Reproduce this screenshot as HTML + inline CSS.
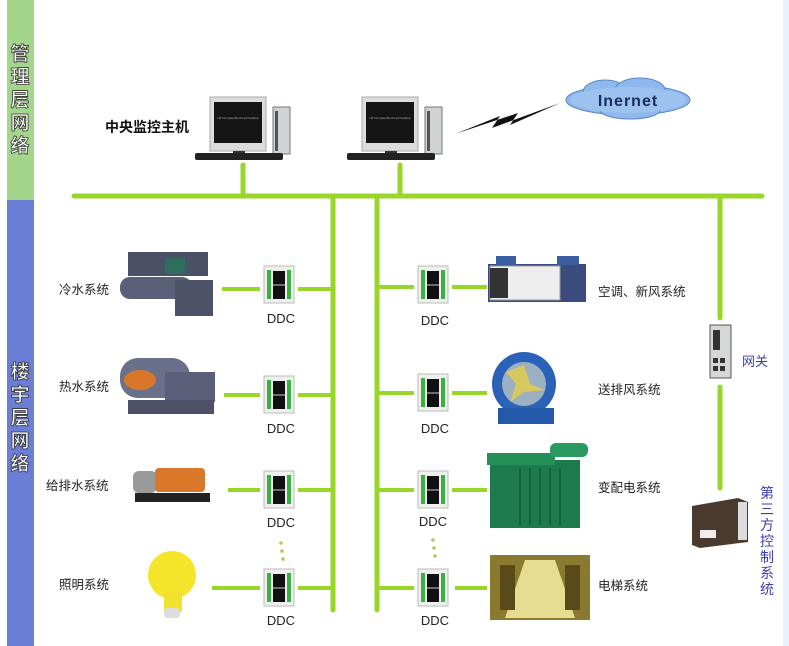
<!DOCTYPE html>
<html><head><meta charset="utf-8"><style>
html,body{margin:0;padding:0;background:#fff;}
svg{display:block;}
text{font-family:"Liberation Sans","Noto Sans CJK SC",sans-serif;}
</style></head><body>
<svg width="789" height="646" viewBox="0 0 789 646" xmlns="http://www.w3.org/2000/svg">
<defs>
<g id="ddc">
<rect x="0" y="0" width="30" height="37" fill="#eef0ee" stroke="#b8bcb8"/>
<rect x="3" y="4" width="4" height="29" fill="#3cb043"/>
<rect x="23" y="4" width="4" height="29" fill="#3cb043"/>
<rect x="9" y="5" width="12" height="28" fill="#111"/>
<line x1="9" y1="19" x2="21" y2="19" stroke="#ccc" stroke-width="1"/>
</g>
<g id="pc">
<rect x="15" y="0" width="56" height="54" fill="#dcdcdc" stroke="#aaa"/>
<rect x="19" y="5" width="48" height="41" fill="#151515"/>
<rect x="38" y="54" width="12" height="5" fill="#333"/>
<rect x="78" y="10" width="17" height="47" fill="#cfd3d6" stroke="#777"/>
<rect x="80" y="14" width="3" height="40" fill="#555"/>
<rect x="0" y="56" width="88" height="7" rx="2" fill="#222"/>
<text x="43" y="22" font-size="3" fill="#aaa" text-anchor="middle">HP Compaq Business Desktop</text>
</g>
</defs>
<!-- sidebar -->
<rect x="7" y="0" width="27" height="200" fill="#a3d68a"/>
<rect x="7" y="200" width="27" height="446" fill="#6b7ed5"/>
<g font-size="19" font-weight="bold" fill="#fff" stroke="#333" stroke-width="0.8" text-anchor="middle">
<text x="20" y="60">管</text><text x="20" y="83">理</text><text x="20" y="106">层</text><text x="20" y="129">网</text><text x="20" y="152">络</text>
<text x="20" y="378">楼</text><text x="20" y="401">宇</text><text x="20" y="424">层</text><text x="20" y="447">网</text><text x="20" y="470">络</text>
</g>
<rect x="783" y="0" width="6" height="646" fill="#e9f0f8"/>
<!-- bus lines -->
<g stroke="#98d628" stroke-width="5" fill="none" stroke-linecap="round">
<line x1="74" y1="196" x2="762" y2="196"/>
<line x1="243" y1="165" x2="243" y2="194"/>
<line x1="400" y1="165" x2="400" y2="194"/>
<line x1="333" y1="198" x2="333" y2="610"/>
<line x1="377" y1="198" x2="377" y2="610"/>
<line x1="720" y1="198" x2="720" y2="318"/>
<line x1="720" y1="387" x2="720" y2="488"/>
</g>
<g stroke="#98d628" stroke-width="4">
<line x1="222" y1="289" x2="260" y2="289"/><line x1="298" y1="289" x2="331" y2="289"/>
<line x1="224" y1="395" x2="260" y2="395"/><line x1="298" y1="395" x2="331" y2="395"/>
<line x1="228" y1="490" x2="260" y2="490"/><line x1="298" y1="490" x2="331" y2="490"/>
<line x1="212" y1="588" x2="260" y2="588"/><line x1="298" y1="588" x2="331" y2="588"/>
<line x1="379" y1="287" x2="414" y2="287"/><line x1="452" y1="287" x2="487" y2="287"/>
<line x1="379" y1="393" x2="414" y2="393"/><line x1="452" y1="393" x2="487" y2="393"/>
<line x1="379" y1="490" x2="414" y2="490"/><line x1="452" y1="490" x2="487" y2="490"/>
<line x1="379" y1="588" x2="414" y2="588"/><line x1="455" y1="588" x2="487" y2="588"/>
</g>
<!-- DDCs -->
<use href="#ddc" x="264" y="266"/><use href="#ddc" x="264" y="376"/><use href="#ddc" x="264" y="471"/><use href="#ddc" x="264" y="569"/>
<use href="#ddc" x="418" y="266"/><use href="#ddc" x="418" y="374"/><use href="#ddc" x="418" y="471"/><use href="#ddc" x="418" y="569"/>
<g font-size="13" fill="#222" text-anchor="middle">
<text x="281" y="323">DDC</text><text x="281" y="433">DDC</text><text x="281" y="527">DDC</text><text x="281" y="625">DDC</text>
<text x="435" y="325">DDC</text><text x="435" y="433">DDC</text><text x="433" y="526">DDC</text><text x="435" y="625">DDC</text>
</g>
<g fill="#b5c95a"><circle cx="281" cy="543" r="1.8"/><circle cx="282" cy="551" r="1.8"/><circle cx="283" cy="559" r="1.8"/>
<circle cx="433" cy="540" r="1.8"/><circle cx="434" cy="548" r="1.8"/><circle cx="435" cy="556" r="1.8"/></g>
<!-- computers -->
<use href="#pc" x="195" y="97"/><use href="#pc" x="347" y="97"/>
<text x="105" y="132" font-size="14" font-weight="bold" fill="#111">中央监控主机</text>
<!-- lightning -->
<polygon points="455,134 500,116 492,128 560,103 510,125 518,113" fill="#111"/>
<!-- cloud -->
<g fill="#8fb8ec" stroke="#5c86c8" stroke-width="1">
<ellipse cx="628" cy="100" rx="62" ry="15"/>
<ellipse cx="605" cy="92" rx="22" ry="12"/><ellipse cx="640" cy="90" rx="25" ry="12"/><ellipse cx="630" cy="110" rx="30" ry="9"/>
</g>
<ellipse cx="628" cy="100" rx="58" ry="13" fill="#9cc3f0"/>
<text x="628" y="106" font-size="16" font-weight="bold" fill="#1a2a5a" text-anchor="middle" letter-spacing="1">Inernet</text>
<!-- left equipment -->
<g font-size="12.5" fill="#222">
<text x="59" y="294">冷水系统</text><text x="59" y="391">热水系统</text><text x="46" y="490">给排水系统</text><text x="59" y="589">照明系统</text>
<text x="598" y="296">空调、新风系统</text><text x="598" y="394">送排风系统</text><text x="598" y="492">变配电系统</text><text x="598" y="590">电梯系统</text>
</g>
<!-- chiller -->
<rect x="128" y="252" width="80" height="24" fill="#4a5066"/>
<rect x="120" y="277" width="72" height="22" rx="10" fill="#5a6078"/>
<rect x="175" y="280" width="38" height="36" fill="#4c5268"/>
<rect x="165" y="258" width="20" height="16" fill="#2e6e5e"/>
<!-- boiler -->
<rect x="120" y="358" width="70" height="40" rx="18" fill="#6a6f8a"/>
<ellipse cx="140" cy="380" rx="16" ry="10" fill="#d8772a"/>
<rect x="165" y="372" width="50" height="30" fill="#5b607a"/>
<rect x="128" y="400" width="86" height="14" fill="#4d5168"/>
<!-- pump -->
<rect x="133" y="471" width="24" height="22" rx="6" fill="#9a9a9a"/>
<rect x="155" y="468" width="50" height="24" rx="4" fill="#d9772a"/>
<rect x="135" y="493" width="75" height="9" fill="#222"/>
<!-- bulb -->
<circle cx="172" cy="575" r="24" fill="#f5e52a"/>
<rect x="164" y="592" width="18" height="20" fill="#f2e230"/>
<rect x="164" y="608" width="16" height="10" rx="4" fill="#ddd"/>
<!-- AHU -->
<rect x="488" y="264" width="98" height="38" fill="#3a4c7e"/>
<rect x="490" y="266" width="70" height="34" fill="#eee" stroke="#999"/>
<rect x="490" y="268" width="18" height="30" fill="#333"/>
<rect x="496" y="256" width="20" height="9" fill="#3a5ea0"/><rect x="557" y="256" width="22" height="9" fill="#3a5ea0"/>
<!-- fan -->
<circle cx="524" cy="384" r="32" fill="#2a62b8"/>
<circle cx="524" cy="384" r="22" fill="#9bb0c0"/>
<polygon points="524,365 530,384 545,390 524,392 510,402 516,384 506,372" fill="#d8c860"/>
<rect x="498" y="408" width="56" height="16" fill="#2458a8"/>
<!-- transformer -->
<rect x="490" y="460" width="90" height="68" fill="#1d7a4a"/>
<rect x="487" y="453" width="68" height="12" fill="#249058"/>
<rect x="550" y="443" width="38" height="14" rx="6" fill="#2a9a60"/>
<g stroke="#156238" stroke-width="2"><line x1="520" y1="468" x2="520" y2="525"/><line x1="530" y1="468" x2="530" y2="525"/><line x1="540" y1="468" x2="540" y2="525"/><line x1="550" y1="468" x2="550" y2="525"/><line x1="560" y1="468" x2="560" y2="525"/></g>
<!-- elevator -->
<rect x="490" y="555" width="100" height="65" fill="#8a7a30"/>
<polygon points="525,560 555,560 575,618 505,618" fill="#e8dc90"/>
<rect x="500" y="565" width="15" height="45" fill="#5a4a1a"/><rect x="565" y="565" width="15" height="45" fill="#5a4a1a"/>
<!-- gateway -->
<rect x="710" y="325" width="21" height="53" fill="#d6d8d8" stroke="#555"/>
<rect x="713" y="330" width="7" height="20" fill="#333"/>
<rect x="713" y="358" width="5" height="5" fill="#333"/><rect x="720" y="358" width="5" height="5" fill="#333"/>
<rect x="713" y="366" width="5" height="5" fill="#333"/><rect x="720" y="366" width="5" height="5" fill="#333"/>
<text x="742" y="366" font-size="13" fill="#3a3faa">网关</text>
<!-- third party -->
<polygon points="692,506 738,498 748,502 748,542 700,548 692,545" fill="#4a3a2e"/>
<rect x="738" y="502" width="9" height="38" fill="#ddd"/>
<rect x="700" y="530" width="16" height="8" fill="#eee"/>
<g font-size="14" fill="#3a3faa" text-anchor="middle">
<text x="767" y="498">第</text><text x="767" y="514">三</text><text x="767" y="530">方</text><text x="767" y="546">控</text><text x="767" y="562">制</text><text x="767" y="578">系</text><text x="767" y="594">统</text>
</g>
</svg>
</body></html>
